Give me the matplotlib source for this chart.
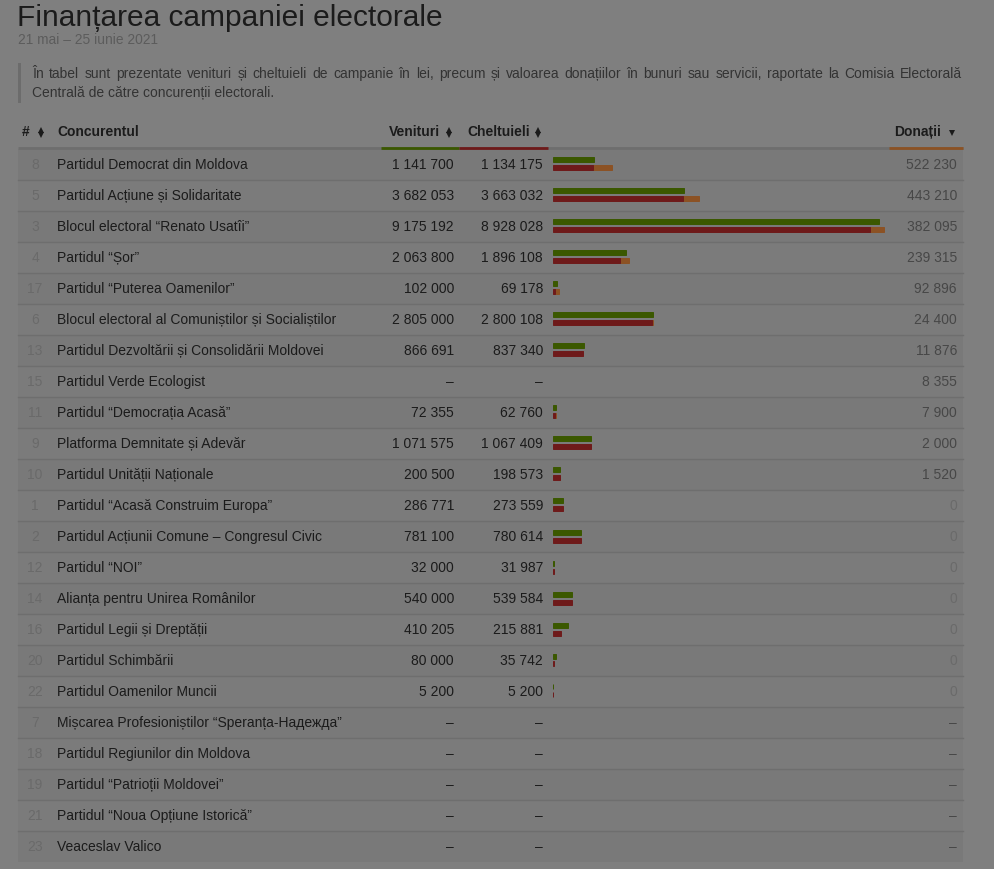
import numpy as np
import matplotlib
matplotlib.use("Agg")
import matplotlib.pyplot as plt

plt.rcParams['font.family'] = ['Liberation Sans', 'DejaVu Sans']

title = "Finanțarea campaniei electorale"
subtitle = "21 mai – 25 iunie 2021"
note_line1 = ("În tabel sunt prezentate venituri și cheltuieli de campanie în lei, precum și "
              "valoarea donațiilor în bunuri sau servicii, raportate la Comisia Electorală")
note_line2 = "Centrală de către concurenții electorali."

ids = [8, 5, 3, 4, 17, 6, 13, 15, 11, 9, 10, 1, 2, 12, 14, 16, 20, 22, 7, 18, 19, 21, 23]
names = [
    "Partidul Democrat din Moldova",
    "Partidul Acțiune și Solidaritate",
    "Blocul electoral “Renato Usatîi”",
    "Partidul “Șor”",
    "Partidul “Puterea Oamenilor”",
    "Blocul electoral al Comuniștilor și Socialiștilor",
    "Partidul Dezvoltării și Consolidării Moldovei",
    "Partidul Verde Ecologist",
    "Partidul “Democrația Acasă”",
    "Platforma Demnitate și Adevăr",
    "Partidul Unității Naționale",
    "Partidul “Acasă Construim Europa”",
    "Partidul Acțiunii Comune – Congresul Civic",
    "Partidul “NOI”",
    "Alianța pentru Unirea Românilor",
    "Partidul Legii și Dreptății",
    "Partidul Schimbării",
    "Partidul Oamenilor Muncii",
    "Mișcarea Profesioniștilor “Speranța-Надежда”",
    "Partidul Regiunilor din Moldova",
    "Partidul “Patrioții Moldovei”",
    "Partidul “Noua Opțiune Istorică”",
    "Veaceslav Valico",
]
venituri = [1141700, 3682053, 9175192, 2063800, 102000, 2805000, 866691, None,
            72355, 1071575, 200500, 286771, 781100, 32000, 540000, 410205,
            80000, 5200, None, None, None, None, None]
cheltuieli = [1134175, 3663032, 8928028, 1896108, 69178, 2800108, 837340, None,
              62760, 1067409, 198573, 273559, 780614, 31987, 539584, 215881,
              35742, 5200, None, None, None, None, None]
donatii = [522230, 443210, 382095, 239315, 92896, 24400, 11876, 8355, 7900,
           2000, 1520, 0, 0, 0, 0, 0, 0, 0, None, None, None, None, None]

# colours (the screenshot is dimmed by a dark overlay)
BG = "#7f7f7f"
ROW_BG = "#7b7b7b"
TXT = "#1b1b1b"
GREY = "#6a6a6a"
DON_TXT = "#474747"
SEP = "#6e6e6e"
GREEN = "#3b5800"
RED = "#6e1a1a"
ORANGE = "#8c5224"

W, H = 994, 869
fig = plt.figure(figsize=(W / 100, H / 100), dpi=100, facecolor=BG)
ax = fig.add_axes([0, 0, 1, 1])
ax.set_xlim(0, W)
ax.set_ylim(H, 0)
ax.axis("off")


def fmt(v):
    if v is None:
        return "–"
    return f"{v:,}".replace(",", " ")


# titles
ax.text(17, 26, title, fontsize=21.5, color=TXT, va="baseline")
ax.text(18, 40.5, subtitle, fontsize=9.9, color="#5c5c5c", va="center")

# note block, first line justified
ax.add_patch(plt.Rectangle((18, 63), 3, 40, color="#6c6c6c", lw=0))
renderer = fig.canvas.get_renderer()
words = note_line1.split(" ")
objs = [ax.text(0, 74, w, fontsize=10, color="#333333", va="center") for w in words]
widths = [o.get_window_extent(renderer).width for o in objs]
gap = (962 - 32 - sum(widths)) / (len(words) - 1)
x = 32
for o, w in zip(objs, widths):
    o.set_x(x)
    x += w + gap
ax.text(32, 93, note_line2, fontsize=10, color="#333333", va="center")

# table geometry
n = len(names)
y0, dy = 164, 31
rows_y = y0 + dy * np.arange(n)
left, right = 18, 963

ax.add_patch(plt.Rectangle((left, 149), right - left, rows_y[-1] + dy / 2 - 149,
                           color=ROW_BG, lw=0, zorder=0))
for i, y in enumerate(rows_y):
    if i % 2 == 0:
        ax.add_patch(plt.Rectangle((left, y - dy / 2), right - left, dy,
                                   color="#797979", lw=0, zorder=0))
for y in rows_y[:-1]:
    ax.plot([left, right], [y + dy / 2, y + dy / 2], color=SEP, lw=1, zorder=1)

# header
hy = 132
hkw = dict(fontsize=10, fontweight="bold", color=TXT, va="center")
ax.text(22, hy, "#", **hkw)
ax.text(57, hy, "Concurentul", **hkw)
ax.text(440, hy, "Venituri", ha="right", **hkw)
ax.text(530, hy, "Cheltuieli", ha="right", **hkw)
ax.text(941, hy, "Donații", ha="right", **hkw)
for sx in (41, 449, 538):
    ax.plot(sx, hy - 2.5, marker="^", ms=4.5, color=TXT, mew=0)
    ax.plot(sx, hy + 2.5, marker="v", ms=4.5, color=TXT, mew=0)
ax.plot(952, hy + 1, marker="v", ms=4.5, color=TXT, mew=0)

ax.plot([left, right], [148, 148], color=SEP, lw=2, solid_capstyle="butt")
ax.plot([381, 459], [148, 148], color=GREEN, lw=2, solid_capstyle="butt")
ax.plot([459, 548], [148, 148], color=RED, lw=2, solid_capstyle="butt")
ax.plot([889, 963], [148, 148], color=ORANGE, lw=2, solid_capstyle="butt")

# rows text
for i, y in enumerate(rows_y):
    ty = y + 1
    ax.text(35, ty, str(ids[i]), fontsize=10, color=GREY, ha="center", va="center")
    ax.text(57, ty, names[i], fontsize=10, color=TXT, va="center")
    ax.text(454, ty, fmt(venituri[i]), fontsize=10, color=TXT, ha="right", va="center")
    ax.text(543, ty, fmt(cheltuieli[i]), fontsize=10, color=TXT, ha="right", va="center")
    d = donatii[i]
    dc = DON_TXT if (d is None or d > 0) else GREY
    ax.text(957, ty, fmt(d), fontsize=10, color=dc, ha="right", va="center")

# bars
bx0, bx1 = 553, 889
top, bot = rows_y[0] - dy / 2, rows_y[-1] + dy / 2
bax = fig.add_axes([bx0 / W, 1 - bot / H, (bx1 - bx0) / W, (bot - top) / H])
bax.set_xlim(0, (bx1 - bx0) * 9175192 / 326)
bax.set_ylim(n - 0.5, -0.5)
bax.axis("off")
bax.patch.set_alpha(0)

idx = np.arange(n)
ven = np.array([np.nan if v is None else v for v in venituri], dtype=float)
che = np.array([np.nan if v is None else v for v in cheltuieli], dtype=float)
don = np.array([np.nan if v is None else v for v in donatii], dtype=float)
has = ~np.isnan(che)
off = 4.0 / dy
bh = 5.0 / dy
bax.barh(idx[has] - off, ven[has], height=bh, color=GREEN, ec=GREEN, lw=0.7)
bax.barh(idx[has] + off, don[has], left=che[has], height=bh, color=ORANGE,
         ec=ORANGE, lw=np.where(don[has] > 0, 0.7, 0))
bax.barh(idx[has] + off, che[has], height=bh, color=RED, ec=RED, lw=0.7)

fig.savefig("out.png", dpi=100, facecolor=BG)
